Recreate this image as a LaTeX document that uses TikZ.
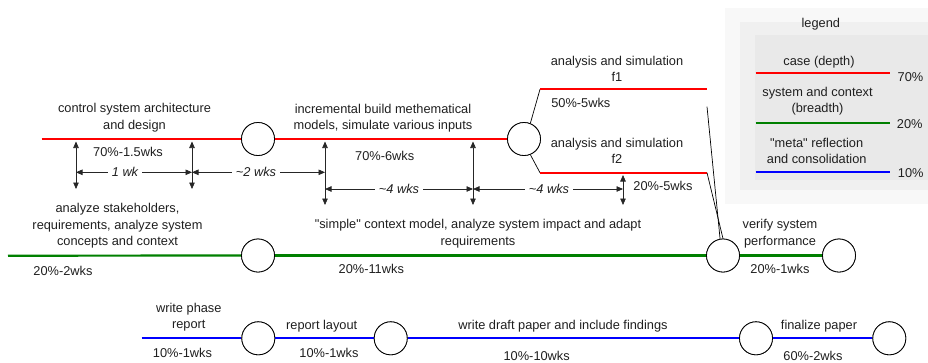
\documentclass[tikz,border=0pt]{standalone}
\usepackage{fontspec}
\setmainfont{Liberation Sans}
\newfontfamily\lfont{Liberation Sans}
\usetikzlibrary{arrows.meta}
\definecolor{legsh}{RGB}{248,248,248}
\definecolor{legout}{RGB}{240,240,240}
\definecolor{legin}{RGB}{233,233,233}
\definecolor{dgreen}{RGB}{0,128,0}
\begin{document}
\begin{tikzpicture}[x=1pt,y=-1pt,
  lbl/.style={font=\lfont\fontsize{12.8}{16.5}\selectfont, inner sep=0pt, align=center, text=black!88},
  ital/.style={font=\lfont\fontsize{12.8}{16.5}\selectfont\itshape, text=black!88, fill=white, inner xsep=4pt, inner ysep=1pt},
  ms/.style={circle, draw=black, line width=0.8pt, fill=white, minimum size=33pt, inner sep=0pt},
  redl/.style={draw=red, line width=2.2pt},
  grnl/.style={draw=dgreen, line width=2.2pt},
  blul/.style={draw=blue, line width=2.2pt},
  thin/.style={draw=black, line width=0.7pt},
  dim/.style={draw=black!85, line width=0.7pt, {Triangle[length=6.5pt,width=5.5pt]}-{Triangle[length=6.5pt,width=5.5pt]}},
]
\useasboundingbox (0,0) rectangle (928,362);

% legend background
\fill[legsh] (725,8) rectangle (930,204);
\fill[legout] (740,21.7) rectangle (930,190);
\fill[legin] (755,35) rectangle (930,180);

% ---------- milestones ----------
\node[ms] (c1) at (258,139) {};
\node[ms] (c2) at (524,139) {};
\node[ms] (c3) at (258,255.5) {};
\node[ms] (cv) at (723,255.5) {};
\node[ms] (cf) at (839,255.5) {};
\node[ms] (b1) at (258.3,338.3) {};
\node[ms] (b2) at (390.7,338.3) {};
\node[ms] (b3) at (756,338.3) {};
\node[ms] (b4) at (889.3,338.3) {};

% ---------- coordinates ----------
\coordinate (rs) at (41.7,139);
\coordinate (f1a) at (540,89.3);
\coordinate (f1b) at (707,89.3);
\coordinate (f2a) at (540,172.7);
\coordinate (f2b) at (707,172.7);
\coordinate (f1d) at (707,106.7);
\coordinate (gs) at (8,255.7);
\coordinate (bs) at (141.7,338.3);

% ---------- red (case) ----------
\draw[redl] (rs) -- (c1);
\draw[redl] (c1) -- (c2);
\draw[thin] (c2.68) -- (f1a);
\draw[redl] (f1a) -- (f1b);
\draw[thin] (c2.-68) -- (f2a);
\draw[redl] (f2a) -- (f2b);
\draw[thin] (f1d) -- (cv.100);
\draw[thin] (f2b) -- (cv.north);

% ---------- green (system) ----------
\draw[grnl] (gs) -- (c3);
\draw[grnl] (c3) -- (cv);
\draw[grnl] (cv) -- (cf);

% ---------- blue (meta) ----------
\draw[blul] (bs) -- (b1);
\draw[blul] (b1) -- (b2);
\draw[blul] (b2) -- (b3);
\draw[blul] (b3) -- (b4);

% redraw circles on top
\foreach \n in {c1,c2,c3,cv,cf,b1,b2,b3,b4}{
  \node[ms] at (\n) {};
}

% ---------- dimension arrows ----------
\coordinate (v1t) at (76,141.5);   \coordinate (v1b) at (76,189);
\coordinate (v2t) at (192,141.5);  \coordinate (v2b) at (192,189);
\coordinate (v3t) at (325,141.5);  \coordinate (v3b) at (325,205);
\coordinate (v4t) at (473,141.5);  \coordinate (v4b) at (473,205);
\coordinate (v5t) at (623,175);    \coordinate (v5b) at (623,205);
\draw[dim] (v1t) -- (v1b);
\draw[dim] (v2t) -- (v2b);
\draw[dim] (v3t) -- (v3b);
\draw[dim] (v4t) -- (v4b);
\draw[dim] (v5t) -- (v5b);

\coordinate (h1) at (76,172.3);
\coordinate (h2) at (192,172.3);
\coordinate (h3) at (325,172.3);
\coordinate (k1) at (325,189);
\coordinate (k2) at (473,189);
\coordinate (k3) at (623,189);
\draw[dim] (h1) -- (h2);
\draw[dim] (h2) -- (h3);
\draw[dim] (k1) -- (k2);
\draw[dim] (k2) -- (k3);
\node[ital] (l1) at (125,172.3) {1 wk};
\node[ital] (l2) at (256,172.3) {\textasciitilde2 wks};
\node[ital] (l3) at (399,189) {\textasciitilde4 wks};
\node[ital] (l4) at (549,189) {\textasciitilde4 wks};

% ---------- labels top row ----------
\node[lbl] (t1) at (134.5,117.5) {control system architecture\\and design};
\node[lbl] (t1p) at (128,151.7) {70\%-1.5wks};
\node[lbl] (t2) at (383,118) {incremental build methematical\\models, simulate various inputs};
\node[lbl] (t2p) at (384.7,156) {70\%-6wks};
\node[lbl] (t3) at (617,68.7) {analysis and simulation\\f1};
\node[lbl] (t3p) at (580.8,103.3) {50\%-5wks};
\node[lbl] (t4) at (617,150.7) {analysis and simulation\\f2};
\node[lbl] (t4p) at (663,185.7) {20\%-5wks};

% ---------- labels middle row ----------
\node[lbl] (m1) at (117.5,225.7) {analyze stakeholders,\\requirements, analyze system\\concepts and context};
\node[lbl] (m1p) at (63,271) {20\%-2wks};
\node[lbl] (m2) at (478,233.7) {"simple" context model, analyze system impact and adapt\\requirements};
\node[lbl] (m2p) at (371.3,269) {20\%-11wks};
\node[lbl] (m3) at (780,233.7) {verify system\\performance};
\node[lbl] (m3p) at (780,269) {20\%-1wks};

% ---------- labels bottom row ----------
\node[lbl] (n1) at (188.8,317) {write phase\\report};
\node[lbl] (n1p) at (182.5,353.3) {10\%-1wks};
\node[lbl] (n2) at (321.7,325.7) {report layout};
\node[lbl] (n2p) at (329,353.3) {10\%-1wks};
\node[lbl] (n3) at (563,325.7) {write draft paper and include findings};
\node[lbl] (n3p) at (536.7,355.7) {10\%-10wks};
\node[lbl] (n4) at (819,325.7) {finalize paper};
\node[lbl] (n4p) at (813,355.7) {60\%-2wks};

% ---------- legend ----------
\node[lbl] (lg) at (820.8,24.3) {legend};
\node[lbl] (lg1) at (819,61.7) {case (depth)};
\coordinate (lr1) at (755.7,72.7); \coordinate (lr2) at (890,72.7);
\draw[redl] (lr1) -- (lr2);
\node[lbl, anchor=west] (lp1) at (897.5,76.7) {70\%};
\node[lbl] (lg2) at (817.5,101.2) {system and context\\(breadth)};
\coordinate (lgr1) at (755.7,123.3); \coordinate (lgr2) at (890,123.3);
\draw[grnl] (lgr1) -- (lgr2);
\node[lbl, anchor=west] (lp2) at (896.7,124.5) {20\%};
\node[lbl] (lg3) at (816.7,151) {"meta" reflection\\and consolidation};
\coordinate (lb1) at (755.7,172.3); \coordinate (lb2) at (890,172.3);
\draw[blul] (lb1) -- (lb2);
\node[lbl, anchor=west] (lp3) at (897.7,173.5) {10\%};
\end{tikzpicture}
\end{document}
